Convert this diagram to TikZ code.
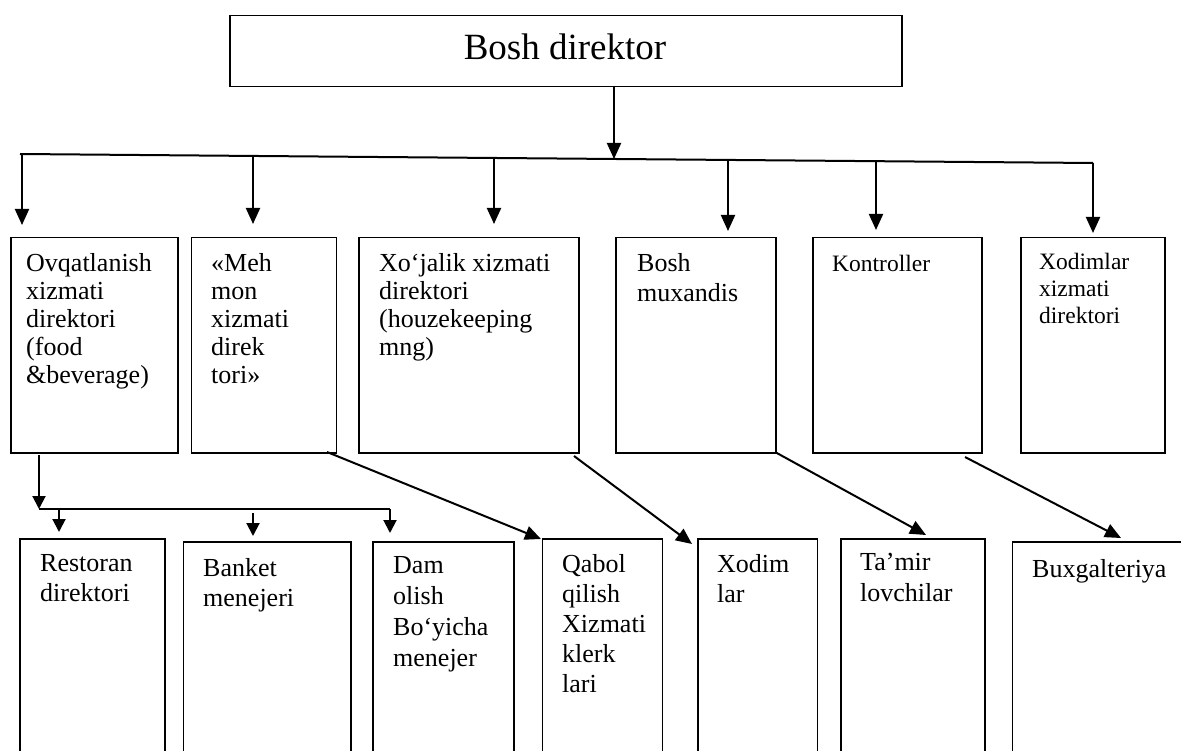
\documentclass[tikz,border=0pt]{standalone}
\usepackage{fontspec}
\setmainfont{Liberation Serif}
\usetikzlibrary{arrows.meta}
\begin{document}
\begin{tikzpicture}[x=1pt,y=-1pt,
  box/.style={draw, line width=1.5pt, inner sep=0pt, anchor=north west},
  arr/.style={line width=2pt, -{Triangle[width=14pt,length=16pt]}},
  sarr/.style={line width=2pt, -{Triangle[width=13pt,length=13pt]}},
  ln/.style={line width=2pt},
  lbl/.style={anchor=north west, inner sep=0pt, align=left},
  tA/.style={lbl, font=\fontsize{26}{28}\selectfont, yshift=19pt, execute at begin node={\rule{0pt}{19pt}}},
  tB/.style={lbl, font=\fontsize{26}{30}\selectfont, yshift=19pt, execute at begin node={\rule{0pt}{19pt}}},
  tC/.style={lbl, font=\fontsize{26}{31}\selectfont, yshift=19pt, execute at begin node={\rule{0pt}{19pt}}},
  tS/.style={lbl, font=\fontsize{23.5}{27}\selectfont, yshift=17pt, execute at begin node={\rule{0pt}{17pt}}}
]
\useasboundingbox (0,0) rectangle (1181,751);
\clip (0,0) rectangle (1181,751);
\fill[white] (0,0) rectangle (1181,751);

% top box
\node[box, minimum width=672pt, minimum height=71pt] (T) at (229,15) {};
\node[font=\fontsize{37}{40}\selectfont, anchor=base, inner sep=0pt] (tT) at (565,60) {Bosh direktor};

% level 2 boxes
\node[box, minimum width=167pt, minimum height=215pt] (n1) at (10,237) {};
\node[box, minimum width=145pt, minimum height=215pt] (n2) at (190.5,237) {};
\node[box, minimum width=220pt, minimum height=215pt] (n3) at (358,237) {};
\node[box, minimum width=160pt, minimum height=215pt] (n4) at (615,237) {};
\node[box, minimum width=169pt, minimum height=215pt] (n5) at (812,237) {};
\node[box, minimum width=144pt, minimum height=215pt] (n6) at (1020,237) {};

\node[tA] (t1) at (26,272) {Ovqatlanish\\xizmati\\direktori\\(food\\\&beverage)};
\node[tA] (t2) at (211,272) {«Meh\\mon\\xizmati\\direk\\tori»};
\node[tA] (t3) at (379,272) {Xo‘jalik xizmati\\direktori\\(houzekeeping\\mng)};
\node[tB] (t4) at (637,272) {Bosh\\muxandis};
\node[tS] (t5) at (832,271) {Kontroller};
\node[tS] (t6) at (1039,270) {Xodimlar\\xizmati\\direktori};

% level 3 boxes
\node[box, minimum width=145pt, minimum height=240pt] (m1) at (19,538) {};
\node[box, minimum width=167.5pt, minimum height=240pt] (m2) at (182.5,541) {};
\node[box, minimum width=141pt, minimum height=240pt] (m3) at (372,541) {};
\node[box, minimum width=120pt, minimum height=240pt] (m4) at (541.5,538) {};
\node[box, minimum width=119.5pt, minimum height=240pt] (m5) at (697,538) {};
\node[box, minimum width=144pt, minimum height=240pt] (m6) at (840,538) {};
\node[box, minimum width=200pt, minimum height=240pt] (m7) at (1011.5,541) {};

\node[tB] (u1) at (40,573) {Restoran\\direktori};
\node[tB] (u2) at (203,577) {Banket\\menejeri};
\node[tC] (u3) at (393,575) {Dam\\olish\\Bo‘yicha\\menejer};
\node[tB] (u4) at (562,573) {Qabol\\qilish\\Xizmati\\klerk\\lari};
\node[tB] (u5) at (717,573) {Xodim\\lar};
\node[tC] (u6) at (860,572) {Ta’mir\\lovchilar};
\node[tB] (u7) at (1032,577) {Buxgalteriya};

% top distribution
\coordinate (j) at (614,159);
\draw[arr] (T.south -| j) -- (j);
\coordinate (L) at (20,154);
\coordinate (R) at (1093,163);
\draw[ln] (L) -- (R);

\coordinate (p1) at (22,154);   \coordinate (q1) at (22,225);
\coordinate (p2) at (253,156);  \coordinate (q2) at (253,224);
\coordinate (p3) at (494,158);  \coordinate (q3) at (494,224);
\coordinate (p4) at (728,160);  \coordinate (q4) at (728,231);
\coordinate (p5) at (876,161.2);\coordinate (q5) at (876,230);
\coordinate (q6) at (1093,233);
\draw[arr] (p1) -- (q1);
\draw[arr] (p2) -- (q2);
\draw[arr] (p3) -- (q3);
\draw[arr] (p4) -- (q4);
\draw[arr] (p5) -- (q5);
\draw[arr] (R) -- (q6);

% sub distribution under n1
\coordinate (o1) at (39,455);
\coordinate (o2) at (39,509);
\coordinate (o3) at (390,509);
\draw[sarr] (o1) -- (o2);
\draw[ln] (o2) -- (o3);
\coordinate (r1) at (59,509);  \coordinate (s1) at (59,532);
\coordinate (r2) at (253,513); \coordinate (s2) at (253,536);
\coordinate (s3) at (390,533);
\draw[sarr] (r1) -- (s1);
\draw[sarr] (r2) -- (s2);
\draw[sarr] (o3) -- (s3);

% diagonal connectors
\coordinate (d1) at (327,452); \coordinate (e1) at (541,539);
\coordinate (d2) at (574,456); \coordinate (e2) at (692,544);
\coordinate (d3) at (775,452); \coordinate (e3) at (926,535);
\coordinate (d4) at (965,457); \coordinate (e4) at (1121,538);
\draw[arr] (d1) -- (e1);
\draw[arr] (d2) -- (e2);
\draw[arr] (d3) -- (e3);
\draw[arr] (d4) -- (e4);
\end{tikzpicture}
\end{document}
